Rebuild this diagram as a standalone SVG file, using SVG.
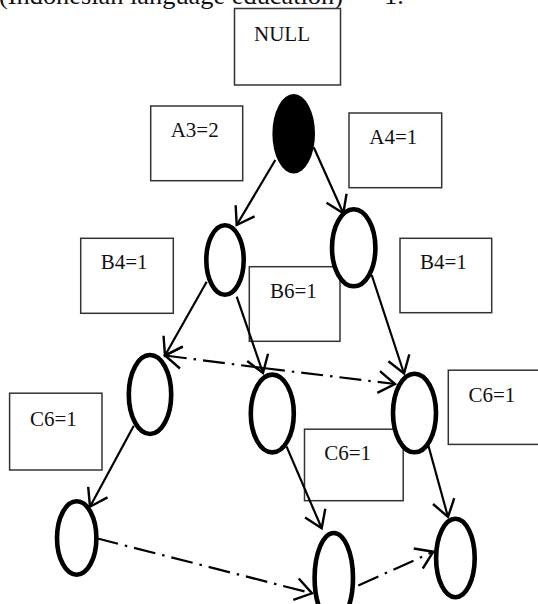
<svg xmlns="http://www.w3.org/2000/svg" width="538" height="604" viewBox="0 0 538 604">
  <style>
    .lbl { font-family: "Liberation Serif", "Times New Roman", serif; font-size: 21px; fill: #111; }
    .head { font-family: "Liberation Serif", "Times New Roman", serif; font-size: 26px; fill: #111; }
    .box { fill: #fff; stroke: #333; stroke-width: 1.5; }
    .node { fill: #fff; stroke: #000; stroke-width: 4.6; }
    .root { fill: #000; stroke: none; }
    .edge { fill: none; stroke: #000; stroke-width: 2.2; marker-end: url(#arrow); }
    .link { fill: none; stroke: #000; stroke-width: 2.2; stroke-dasharray: 22 7 2.5 7; marker-end: url(#arrow); }
  </style>
  <defs>
    <marker id="arrow" markerUnits="userSpaceOnUse" markerWidth="44" markerHeight="44" refX="0" refY="0" viewBox="-22 -22 44 44" orient="auto" overflow="visible">
      <path d="M-16.5,-11 L0,0 L-16.5,11" fill="none" stroke="#000" stroke-width="2.4" stroke-linejoin="miter"/>
    </marker>
  </defs>

  <!-- caption line running off the top edge -->
  <text class="head" x="-1" y="3.5" textLength="344" lengthAdjust="spacingAndGlyphs">(Indonesian language education)</text>
  <text class="head" x="363" y="3.5">= 1.</text>

  <!-- count boxes -->
  <g id="box-null"><rect class="box" x="234.5" y="8.5" width="106" height="76.5"/><text class="lbl" x="254" y="40.5">NULL</text></g>
  <g id="box-a3"><rect class="box" x="150.7" y="106" width="92" height="74.7"/><text class="lbl" x="170.7" y="136.7">A3=2</text></g>
  <g id="box-a4"><rect class="box" x="349" y="113" width="92.7" height="74.7"/><text class="lbl" x="369.3" y="144.3">A4=1</text></g>
  <g id="box-b4-left"><rect class="box" x="80.7" y="238.3" width="92.6" height="75"/><text class="lbl" x="100.7" y="269">B4=1</text></g>
  <g id="box-b6"><rect class="box" x="249.3" y="266.7" width="90.7" height="74.6"/><text class="lbl" x="270" y="298.3">B6=1</text></g>
  <g id="box-b4-right"><rect class="box" x="400" y="238.3" width="91.7" height="74.4"/><text class="lbl" x="420" y="269.3">B4=1</text></g>
  <g id="box-c6-left"><rect class="box" x="9.6" y="393.2" width="92.4" height="76.8"/><text class="lbl" x="29.9" y="425.8">C6=1</text></g>
  <g id="box-c6-mid"><rect class="box" x="304.5" y="429.2" width="98.7" height="71.5"/><text class="lbl" x="324.2" y="460">C6=1</text></g>
  <g id="box-c6-right"><rect class="box" x="448.3" y="370.2" width="92" height="74.2"/><text class="lbl" x="468.4" y="401.8">C6=1</text></g>

  <!-- connectors -->
  <g id="connectors">
    <line class="edge" x1="275.3" y1="160" x2="236.7" y2="225"/>
    <line class="edge" x1="313.7" y1="147.3" x2="343.3" y2="213.3"/>
    <line class="edge" x1="206.7" y1="281.7" x2="165" y2="355.5"/>
    <line class="edge" x1="236.7" y1="296.7" x2="263" y2="373"/>
    <line class="edge" x1="371.7" y1="275" x2="404" y2="373.5"/>
    <line class="edge" x1="133.8" y1="425.8" x2="90" y2="506.7"/>
    <line class="edge" x1="286.5" y1="446.4" x2="321.7" y2="528.3"/>
    <line class="edge" x1="427.2" y1="441.2" x2="448" y2="517"/>
    <!-- item links between the C6 nodes -->
    <line class="link" x1="263" y1="368" x2="165" y2="355.5"/>
    <line class="link" x1="263" y1="368" x2="395" y2="384"/>
    <!-- item links along the bottom row -->
    <line class="link" x1="96.7" y1="538.3" x2="312" y2="593.3"/>
    <line class="link" x1="358.3" y1="585.5" x2="433.3" y2="551.7"/>
  </g>

  <!-- tree nodes -->
  <g id="root"><ellipse class="root" cx="293.7" cy="133.7" rx="21.3" ry="39.7"/></g>
  <g id="node-b-left"><ellipse class="node" cx="225" cy="260" rx="18.7" ry="34.7"/></g>
  <g id="node-b-right"><ellipse class="node" cx="353.7" cy="247.8" rx="21.7" ry="38.5"/></g>
  <g id="node-c-left"><ellipse class="node" cx="150" cy="394.5" rx="21.2" ry="39.5"/></g>
  <g id="node-c-mid"><ellipse class="node" cx="272.3" cy="413.5" rx="21.5" ry="38.9"/></g>
  <g id="node-c-right"><ellipse class="node" cx="414.5" cy="413" rx="21.5" ry="39.3"/></g>
  <g id="node-d-left"><ellipse class="node" cx="76.7" cy="538" rx="19.7" ry="36.7"/></g>
  <g id="node-d-mid"><ellipse class="node" cx="333.8" cy="578" rx="19.2" ry="45"/></g>
  <g id="node-d-right"><ellipse class="node" cx="455.4" cy="558" rx="19.3" ry="39.3"/></g>
</svg>
